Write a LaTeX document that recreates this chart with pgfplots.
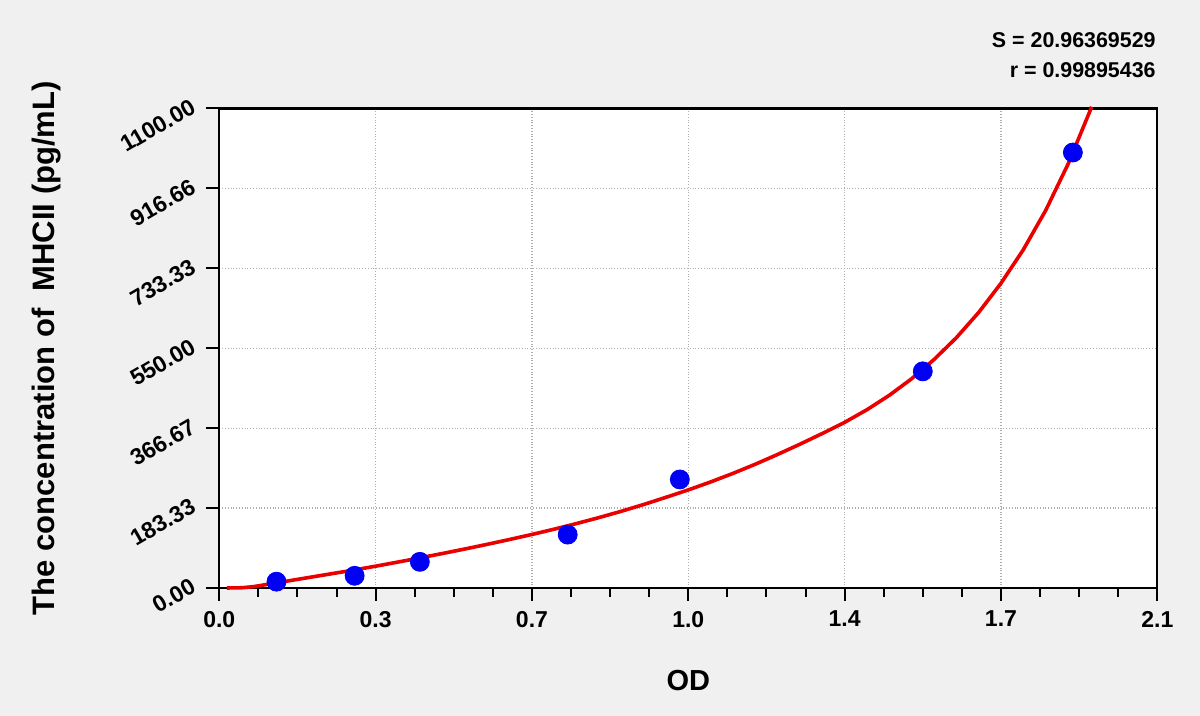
\documentclass[border=0pt]{standalone}
\usepackage{pgfplots}
\pgfplotsset{compat=1.18}
\usepackage{fontspec}
\setmainfont{Liberation Sans}
\definecolor{bggray}{RGB}{240,240,240}
\definecolor{gridgray}{RGB}{175,175,175}
\definecolor{ptblue}{RGB}{0,0,245}
\definecolor{curvered}{RGB}{235,0,0}
\begin{document}
\begin{tikzpicture}
\useasboundingbox (0,0) rectangle (600pt,358pt);
\fill[bggray] (0,0) rectangle (600pt,358pt);
\begin{axis}[
  at={(109.65pt,64pt)}, anchor=south west,
  scale only axis, width=469pt, height=239.75pt,
  xmin=0, xmax=2.1, ymin=0, ymax=1100,
  axis background/.style={fill=white},
  axis line style={black, line width=1.1pt},
  xtick={0,0.35,0.7,1.05,1.4,1.75,2.1},
  xticklabels={0.0,0.3,0.7,1.0,1.4,1.7,2.1},
  ytick={0,183.33,366.67,550,733.33,916.66,1100},
  yticklabels={0.00,183.33,366.67,550.00,733.33,916.66,1100.00},
  minor x tick num=3, minor y tick num=3,
  tick pos=left, tick align=outside,
  major tick length=6.5pt, minor tick length=4.5pt,
  tick style={black, line width=1pt},
  grid=major,
  major grid style={gridgray, densely dotted, line width=0.6pt},
  ticklabel style={font=\fontsize{11.5}{13}\selectfont\bfseries},
  xticklabel style={anchor=north, yshift=-1.5pt},
  yticklabel style={rotate=30, anchor=east, xshift=-1.1pt, yshift=4.6pt},
  xlabel={OD},
  ylabel={The concentration of\ \ MHCII (pg/mL)},
  xlabel style={font=\fontsize{14.5}{17}\selectfont\bfseries, at={(axis description cs:0.5,0)}, anchor=base, yshift=-51.2pt},
  ylabel style={font=\fontsize{15.5}{18}\selectfont\bfseries, at={(axis description cs:0,0.5)}, anchor=base, yshift=82.2pt},
  clip=false,
]
\addplot[curvered, line width=1.8pt, line join=round] coordinates {
(0.017,0) (0.05,0.5) (0.076,3) (0.10,7) (0.15,15.5) (0.20,24) (0.25,32.5)
(0.30,41) (0.35,50) (0.40,59.5) (0.45,69.2) (0.50,79.2) (0.55,89.5)
(0.60,100.2) (0.65,111.3) (0.70,122.8) (0.75,135) (0.80,147.9) (0.85,161.5)
(0.90,176) (0.95,191.5) (1.00,208) (1.05,225) (1.10,243.3) (1.15,262.9)
(1.20,283.9) (1.25,306.4) (1.30,329.9) (1.35,354.4) (1.40,380) (1.45,409)
(1.50,442) (1.55,480) (1.60,524) (1.65,574) (1.70,632) (1.75,699)
(1.80,776) (1.85,866) (1.90,972) (1.95,1096) (1.953,1104)
};
\addplot[only marks, mark=*, mark size=4.75pt, mark options={fill=ptblue, draw=ptblue}] coordinates {
(0.128,14.5) (0.303,28) (0.449,60) (0.780,122.5) (1.031,249) (1.575,497) (1.911,999)
};
\end{axis}
\node[anchor=base east, inner sep=0pt, font=\fontsize{10.7}{12}\selectfont\bfseries] at (578pt,334.3pt) {S = 20.96369529};
\node[anchor=base east, inner sep=0pt, font=\fontsize{10.7}{12}\selectfont\bfseries] at (578pt,319.3pt) {r = 0.99895436};
\end{tikzpicture}
\end{document}
